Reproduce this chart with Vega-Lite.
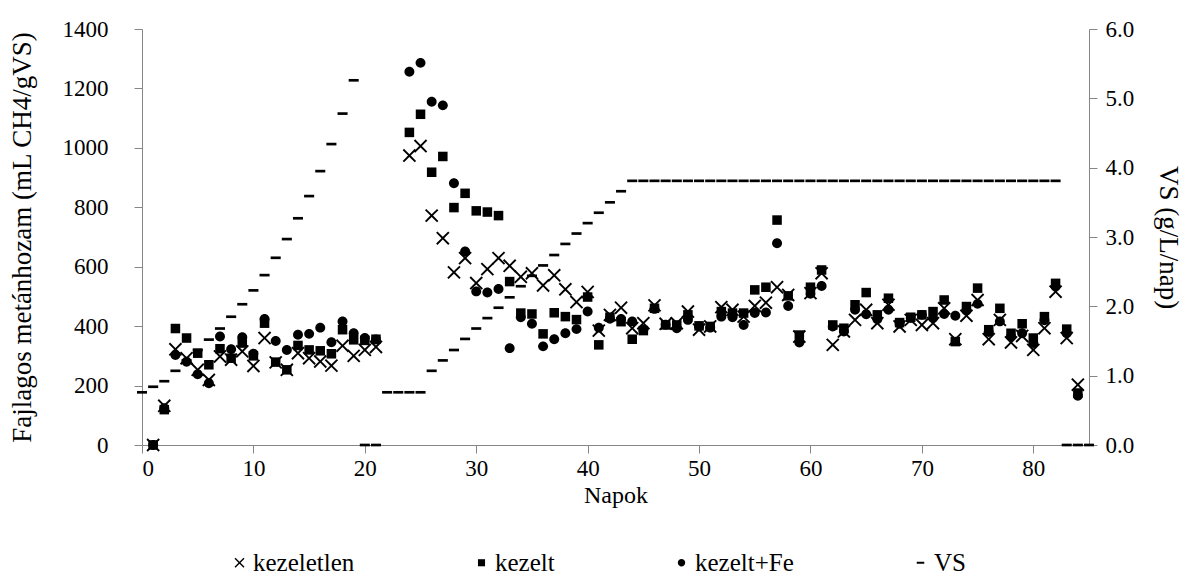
{
  "$schema": "https://vega.github.io/schema/vega-lite/v6.json",
  "width": 947,
  "height": 416,
  "autosize": {"type": "none"},
  "padding": {"left": 142, "top": 29, "right": 95, "bottom": 136},
  "background": "white",
  "config": {
    "view": {"stroke": null},
    "font": "Liberation Serif, Times New Roman, serif",
    "axis": {
      "domainColor": "#868686",
      "tickColor": "#868686",
      "tickSize": 8,
      "grid": false,
      "labelFont": "Liberation Serif, Times New Roman, serif",
      "labelFontSize": 23,
      "labelColor": "black",
      "titleFont": "Liberation Serif, Times New Roman, serif",
      "titleFontSize": 27,
      "titleFontWeight": "normal",
      "titleColor": "black"
    },
    "legend": {"labelFont": "Liberation Serif, Times New Roman, serif", "labelFontSize": 25, "labelColor": "black"}
  },
  "datasets": {
    "methane": [
      {"day":1,"series":"kezeletlen","v":0},{"day":1,"series":"kezelt","v":0},{"day":1,"series":"kezelt+Fe","v":0},
      {"day":2,"series":"kezeletlen","v":132},{"day":2,"series":"kezelt","v":119},{"day":2,"series":"kezelt+Fe","v":124},
      {"day":3,"series":"kezeletlen","v":322},{"day":3,"series":"kezelt","v":392},{"day":3,"series":"kezelt+Fe","v":303},
      {"day":4,"series":"kezeletlen","v":292},{"day":4,"series":"kezelt","v":360},{"day":4,"series":"kezelt+Fe","v":280},
      {"day":5,"series":"kezeletlen","v":253},{"day":5,"series":"kezelt","v":309},{"day":5,"series":"kezelt+Fe","v":238},
      {"day":6,"series":"kezeletlen","v":219},{"day":6,"series":"kezelt","v":270},{"day":6,"series":"kezelt+Fe","v":208},
      {"day":7,"series":"kezeletlen","v":298},{"day":7,"series":"kezelt","v":324},{"day":7,"series":"kezelt+Fe","v":365},
      {"day":8,"series":"kezeletlen","v":287},{"day":8,"series":"kezelt","v":292},{"day":8,"series":"kezelt+Fe","v":322},
      {"day":9,"series":"kezeletlen","v":315},{"day":9,"series":"kezelt","v":343},{"day":9,"series":"kezelt+Fe","v":363},
      {"day":10,"series":"kezeletlen","v":266},{"day":10,"series":"kezelt","v":300},{"day":10,"series":"kezelt+Fe","v":307},
      {"day":11,"series":"kezeletlen","v":360},{"day":11,"series":"kezelt","v":410},{"day":11,"series":"kezelt+Fe","v":424},
      {"day":12,"series":"kezeletlen","v":278},{"day":12,"series":"kezelt","v":279},{"day":12,"series":"kezelt+Fe","v":350},
      {"day":13,"series":"kezeletlen","v":253},{"day":13,"series":"kezelt","v":253},{"day":13,"series":"kezelt+Fe","v":320},
      {"day":14,"series":"kezeletlen","v":309},{"day":14,"series":"kezelt","v":335},{"day":14,"series":"kezelt+Fe","v":371},
      {"day":15,"series":"kezeletlen","v":292},{"day":15,"series":"kezelt","v":320},{"day":15,"series":"kezelt+Fe","v":374},
      {"day":16,"series":"kezeletlen","v":281},{"day":16,"series":"kezelt","v":317},{"day":16,"series":"kezelt+Fe","v":395},
      {"day":17,"series":"kezeletlen","v":267},{"day":17,"series":"kezelt","v":307},{"day":17,"series":"kezelt+Fe","v":346},
      {"day":18,"series":"kezeletlen","v":334},{"day":18,"series":"kezelt","v":388},{"day":18,"series":"kezelt+Fe","v":416},
      {"day":19,"series":"kezeletlen","v":300},{"day":19,"series":"kezelt","v":354},{"day":19,"series":"kezelt+Fe","v":376},
      {"day":20,"series":"kezeletlen","v":320},{"day":20,"series":"kezelt","v":352},{"day":20,"series":"kezelt+Fe","v":360},
      {"day":21,"series":"kezeletlen","v":330},{"day":21,"series":"kezelt","v":356},{"day":21,"series":"kezelt+Fe","v":355},
      {"day":24,"series":"kezeletlen","v":974},{"day":24,"series":"kezelt","v":1052},{"day":24,"series":"kezelt+Fe","v":1256},
      {"day":25,"series":"kezeletlen","v":1006},{"day":25,"series":"kezelt","v":1113},{"day":25,"series":"kezelt+Fe","v":1286},
      {"day":26,"series":"kezeletlen","v":772},{"day":26,"series":"kezelt","v":918},{"day":26,"series":"kezelt+Fe","v":1155},
      {"day":27,"series":"kezeletlen","v":696},{"day":27,"series":"kezelt","v":971},{"day":27,"series":"kezelt+Fe","v":1143},
      {"day":28,"series":"kezeletlen","v":581},{"day":28,"series":"kezelt","v":799},{"day":28,"series":"kezelt+Fe","v":881},
      {"day":29,"series":"kezeletlen","v":629},{"day":29,"series":"kezelt","v":847},{"day":29,"series":"kezelt+Fe","v":651},
      {"day":30,"series":"kezeletlen","v":545},{"day":30,"series":"kezelt","v":788},{"day":30,"series":"kezelt+Fe","v":517},
      {"day":31,"series":"kezeletlen","v":592},{"day":31,"series":"kezelt","v":784},{"day":31,"series":"kezelt+Fe","v":513},
      {"day":32,"series":"kezeletlen","v":629},{"day":32,"series":"kezelt","v":772},{"day":32,"series":"kezelt+Fe","v":525},
      {"day":33,"series":"kezeletlen","v":603},{"day":33,"series":"kezelt","v":550},{"day":33,"series":"kezelt+Fe","v":326},
      {"day":34,"series":"kezeletlen","v":566},{"day":34,"series":"kezelt","v":444},{"day":34,"series":"kezelt+Fe","v":430},
      {"day":35,"series":"kezeletlen","v":578},{"day":35,"series":"kezelt","v":441},{"day":35,"series":"kezelt+Fe","v":408},
      {"day":36,"series":"kezeletlen","v":537},{"day":36,"series":"kezelt","v":374},{"day":36,"series":"kezelt+Fe","v":332},
      {"day":37,"series":"kezeletlen","v":571},{"day":37,"series":"kezelt","v":445},{"day":37,"series":"kezelt+Fe","v":356},
      {"day":38,"series":"kezeletlen","v":524},{"day":38,"series":"kezelt","v":432},{"day":38,"series":"kezelt+Fe","v":376},
      {"day":39,"series":"kezeletlen","v":481},{"day":39,"series":"kezelt","v":422},{"day":39,"series":"kezelt+Fe","v":390},
      {"day":40,"series":"kezeletlen","v":515},{"day":40,"series":"kezelt","v":498},{"day":40,"series":"kezelt+Fe","v":449},
      {"day":41,"series":"kezeletlen","v":385},{"day":41,"series":"kezelt","v":337},{"day":41,"series":"kezelt+Fe","v":395},
      {"day":42,"series":"kezeletlen","v":438},{"day":42,"series":"kezelt","v":430},{"day":42,"series":"kezelt+Fe","v":425},
      {"day":43,"series":"kezeletlen","v":462},{"day":43,"series":"kezelt","v":415},{"day":43,"series":"kezelt+Fe","v":424},
      {"day":44,"series":"kezeletlen","v":393},{"day":44,"series":"kezelt","v":356},{"day":44,"series":"kezelt+Fe","v":416},
      {"day":45,"series":"kezeletlen","v":410},{"day":45,"series":"kezelt","v":385},{"day":45,"series":"kezelt+Fe","v":387},
      {"day":46,"series":"kezeletlen","v":470},{"day":46,"series":"kezelt","v":460},{"day":46,"series":"kezelt+Fe","v":458},
      {"day":47,"series":"kezeletlen","v":408},{"day":47,"series":"kezelt","v":404},{"day":47,"series":"kezelt+Fe","v":405},
      {"day":48,"series":"kezeletlen","v":410},{"day":48,"series":"kezelt","v":404},{"day":48,"series":"kezelt+Fe","v":393},
      {"day":49,"series":"kezeletlen","v":449},{"day":49,"series":"kezelt","v":438},{"day":49,"series":"kezelt+Fe","v":421},
      {"day":50,"series":"kezeletlen","v":388},{"day":50,"series":"kezelt","v":401},{"day":50,"series":"kezelt+Fe","v":399},
      {"day":51,"series":"kezeletlen","v":399},{"day":51,"series":"kezelt","v":399},{"day":51,"series":"kezelt+Fe","v":395},
      {"day":52,"series":"kezeletlen","v":464},{"day":52,"series":"kezelt","v":449},{"day":52,"series":"kezelt+Fe","v":432},
      {"day":53,"series":"kezeletlen","v":455},{"day":53,"series":"kezelt","v":444},{"day":53,"series":"kezelt+Fe","v":430},
      {"day":54,"series":"kezeletlen","v":432},{"day":54,"series":"kezelt","v":444},{"day":54,"series":"kezelt+Fe","v":404},
      {"day":55,"series":"kezeletlen","v":468},{"day":55,"series":"kezelt","v":522},{"day":55,"series":"kezelt+Fe","v":444},
      {"day":56,"series":"kezeletlen","v":479},{"day":56,"series":"kezelt","v":531},{"day":56,"series":"kezelt+Fe","v":446},
      {"day":57,"series":"kezeletlen","v":531},{"day":57,"series":"kezelt","v":757},{"day":57,"series":"kezelt+Fe","v":679},
      {"day":58,"series":"kezeletlen","v":505},{"day":58,"series":"kezelt","v":502},{"day":58,"series":"kezelt+Fe","v":468},
      {"day":59,"series":"kezeletlen","v":365},{"day":59,"series":"kezelt","v":370},{"day":59,"series":"kezelt+Fe","v":345},
      {"day":60,"series":"kezeletlen","v":511},{"day":60,"series":"kezelt","v":531},{"day":60,"series":"kezelt+Fe","v":509},
      {"day":61,"series":"kezeletlen","v":578},{"day":61,"series":"kezelt","v":589},{"day":61,"series":"kezelt+Fe","v":535},
      {"day":62,"series":"kezeletlen","v":337},{"day":62,"series":"kezelt","v":404},{"day":62,"series":"kezelt+Fe","v":399},
      {"day":63,"series":"kezeletlen","v":382},{"day":63,"series":"kezelt","v":393},{"day":63,"series":"kezelt+Fe","v":382},
      {"day":64,"series":"kezeletlen","v":421},{"day":64,"series":"kezelt","v":472},{"day":64,"series":"kezelt+Fe","v":455},
      {"day":65,"series":"kezeletlen","v":455},{"day":65,"series":"kezelt","v":513},{"day":65,"series":"kezelt+Fe","v":440},
      {"day":66,"series":"kezeletlen","v":410},{"day":66,"series":"kezelt","v":438},{"day":66,"series":"kezelt+Fe","v":423},
      {"day":67,"series":"kezeletlen","v":472},{"day":67,"series":"kezelt","v":494},{"day":67,"series":"kezelt+Fe","v":455},
      {"day":68,"series":"kezeletlen","v":399},{"day":68,"series":"kezelt","v":412},{"day":68,"series":"kezelt+Fe","v":408},
      {"day":69,"series":"kezeletlen","v":421},{"day":69,"series":"kezelt","v":430},{"day":69,"series":"kezelt+Fe","v":427},
      {"day":70,"series":"kezeletlen","v":404},{"day":70,"series":"kezelt","v":438},{"day":70,"series":"kezelt+Fe","v":438},
      {"day":71,"series":"kezeletlen","v":410},{"day":71,"series":"kezelt","v":449},{"day":71,"series":"kezelt+Fe","v":427},
      {"day":72,"series":"kezeletlen","v":460},{"day":72,"series":"kezelt","v":488},{"day":72,"series":"kezelt+Fe","v":441},
      {"day":73,"series":"kezeletlen","v":356},{"day":73,"series":"kezelt","v":348},{"day":73,"series":"kezelt+Fe","v":435},
      {"day":74,"series":"kezeletlen","v":435},{"day":74,"series":"kezelt","v":466},{"day":74,"series":"kezelt+Fe","v":453},
      {"day":75,"series":"kezeletlen","v":488},{"day":75,"series":"kezelt","v":528},{"day":75,"series":"kezelt+Fe","v":475},
      {"day":76,"series":"kezeletlen","v":356},{"day":76,"series":"kezelt","v":388},{"day":76,"series":"kezelt+Fe","v":380},
      {"day":77,"series":"kezeletlen","v":421},{"day":77,"series":"kezelt","v":460},{"day":77,"series":"kezelt+Fe","v":416},
      {"day":78,"series":"kezeletlen","v":345},{"day":78,"series":"kezelt","v":376},{"day":78,"series":"kezelt+Fe","v":365},
      {"day":79,"series":"kezeletlen","v":367},{"day":79,"series":"kezelt","v":408},{"day":79,"series":"kezelt+Fe","v":376},
      {"day":80,"series":"kezeletlen","v":320},{"day":80,"series":"kezelt","v":360},{"day":80,"series":"kezelt+Fe","v":343},
      {"day":81,"series":"kezeletlen","v":393},{"day":81,"series":"kezelt","v":432},{"day":81,"series":"kezelt+Fe","v":420},
      {"day":82,"series":"kezeletlen","v":516},{"day":82,"series":"kezelt","v":544},{"day":82,"series":"kezelt+Fe","v":533},
      {"day":83,"series":"kezeletlen","v":360},{"day":83,"series":"kezelt","v":390},{"day":83,"series":"kezelt+Fe","v":376},
      {"day":84,"series":"kezeletlen","v":203},{"day":84,"series":"kezelt","v":175},{"day":84,"series":"kezelt+Fe","v":166}
    ],
    "vs": [
      {"day":0,"series":"VS","vs":0.76},{"day":1,"series":"VS","vs":0.84},{"day":2,"series":"VS","vs":0.92},{"day":3,"series":"VS","vs":1.07},
      {"day":4,"series":"VS","vs":1.22},{"day":5,"series":"VS","vs":1.37},{"day":6,"series":"VS","vs":1.52},{"day":7,"series":"VS","vs":1.68},
      {"day":8,"series":"VS","vs":1.85},{"day":9,"series":"VS","vs":2.03},{"day":10,"series":"VS","vs":2.23},{"day":11,"series":"VS","vs":2.45},
      {"day":12,"series":"VS","vs":2.70},{"day":13,"series":"VS","vs":2.97},{"day":14,"series":"VS","vs":3.27},{"day":15,"series":"VS","vs":3.59},
      {"day":16,"series":"VS","vs":3.95},{"day":17,"series":"VS","vs":4.34},{"day":18,"series":"VS","vs":4.78},{"day":19,"series":"VS","vs":5.26},
      {"day":20,"series":"VS","vs":0},{"day":21,"series":"VS","vs":0},{"day":22,"series":"VS","vs":0.76},{"day":23,"series":"VS","vs":0.76},
      {"day":24,"series":"VS","vs":0.76},{"day":25,"series":"VS","vs":0.76},{"day":26,"series":"VS","vs":1.07},{"day":27,"series":"VS","vs":1.22},
      {"day":28,"series":"VS","vs":1.37},{"day":29,"series":"VS","vs":1.53},{"day":30,"series":"VS","vs":1.68},{"day":31,"series":"VS","vs":1.83},
      {"day":32,"series":"VS","vs":1.98},{"day":33,"series":"VS","vs":2.13},{"day":34,"series":"VS","vs":2.29},{"day":35,"series":"VS","vs":2.44},
      {"day":36,"series":"VS","vs":2.59},{"day":37,"series":"VS","vs":2.74},{"day":38,"series":"VS","vs":2.90},{"day":39,"series":"VS","vs":3.05},
      {"day":40,"series":"VS","vs":3.20},{"day":41,"series":"VS","vs":3.35},{"day":42,"series":"VS","vs":3.50},{"day":43,"series":"VS","vs":3.66},
      {"day":44,"series":"VS","vs":3.81},{"day":45,"series":"VS","vs":3.81},{"day":46,"series":"VS","vs":3.81},{"day":47,"series":"VS","vs":3.81},
      {"day":48,"series":"VS","vs":3.81},{"day":49,"series":"VS","vs":3.81},{"day":50,"series":"VS","vs":3.81},{"day":51,"series":"VS","vs":3.81},
      {"day":52,"series":"VS","vs":3.81},{"day":53,"series":"VS","vs":3.81},{"day":54,"series":"VS","vs":3.81},{"day":55,"series":"VS","vs":3.81},
      {"day":56,"series":"VS","vs":3.81},{"day":57,"series":"VS","vs":3.81},{"day":58,"series":"VS","vs":3.81},{"day":59,"series":"VS","vs":3.81},
      {"day":60,"series":"VS","vs":3.81},{"day":61,"series":"VS","vs":3.81},{"day":62,"series":"VS","vs":3.81},{"day":63,"series":"VS","vs":3.81},
      {"day":64,"series":"VS","vs":3.81},{"day":65,"series":"VS","vs":3.81},{"day":66,"series":"VS","vs":3.81},{"day":67,"series":"VS","vs":3.81},
      {"day":68,"series":"VS","vs":3.81},{"day":69,"series":"VS","vs":3.81},{"day":70,"series":"VS","vs":3.81},{"day":71,"series":"VS","vs":3.81},
      {"day":72,"series":"VS","vs":3.81},{"day":73,"series":"VS","vs":3.81},{"day":74,"series":"VS","vs":3.81},{"day":75,"series":"VS","vs":3.81},
      {"day":76,"series":"VS","vs":3.81},{"day":77,"series":"VS","vs":3.81},{"day":78,"series":"VS","vs":3.81},{"day":79,"series":"VS","vs":3.81},
      {"day":80,"series":"VS","vs":3.81},{"day":81,"series":"VS","vs":3.81},{"day":82,"series":"VS","vs":3.81},{"day":83,"series":"VS","vs":0},
      {"day":84,"series":"VS","vs":0},{"day":85,"series":"VS","vs":0}
    ]
  },
  "layer": [
    {
      "data": {"name": "methane"},
      "mark": {"type": "point", "filled": true, "fill": "black", "opacity": 1, "strokeWidth": 0, "size": 180, "clip": false},
      "encoding": {
        "x": {"field": "day", "type": "quantitative", "scale": {"domain": [0, 85], "nice": false, "zero": false},
          "axis": {"values": [0,10,20,30,40,50,60,70,80], "title": "Napok", "titleFontSize": 24, "labelPadding": 4, "titlePadding": 3}},
        "y": {"field": "v", "type": "quantitative", "scale": {"domain": [0, 1400], "nice": false},
          "axis": {"orient": "left", "values": [0,200,400,600,800,1000,1200,1400], "format": "d", "title": "Fajlagos metánhozam (mL CH4/gVS)", "labelPadding": 26, "titlePadding": 26}},
        "shape": {"field": "series", "type": "nominal",
          "scale": {"domain": ["kezeletlen", "kezelt", "kezelt+Fe", "VS"],
            "range": [
              "M-1,-0.8L-0.8,-1L0,-0.2L0.8,-1L1,-0.8L0.2,0L1,0.8L0.8,1L0,0.2L-0.8,1L-1,0.8L-0.2,0Z",
              "M-0.71,-0.71L0.71,-0.71L0.71,0.71L-0.71,0.71Z",
              "M-0.74,0A0.74,0.74,0,1,1,0.74,0A0.74,0.74,0,1,1,-0.74,0Z",
              "M-0.75,-0.2L0.75,-0.2L0.75,0.2L-0.75,0.2Z"
            ]},
          "legend": {"orient": "none", "legendX": 85, "legendY": 521, "direction": "horizontal", "title": null,
            "symbolSize": 100, "symbolFillColor": "black", "symbolStrokeWidth": 0, "symbolOpacity": 1,
            "labelFont": "Liberation Serif, Times New Roman, serif", "labelFontSize": 25, "labelColor": "black",
            "columnPadding": 114, "labelOffset": 1}}
      }
    },
    {
      "data": {"name": "vs"},
      "mark": {"type": "point", "filled": true, "fill": "black", "opacity": 1, "strokeWidth": 0, "size": 180, "clip": false},
      "encoding": {
        "x": {"field": "day", "type": "quantitative"},
        "y": {"field": "vs", "type": "quantitative", "scale": {"domain": [0, 6], "nice": false},
          "axis": {"orient": "right", "values": [0,1,2,3,4,5,6], "format": ".1f", "title": "VS (g/L/nap)", "labelPadding": 8, "titlePadding": 20}},
        "shape": {"field": "series", "type": "nominal"}
      }
    }
  ],
  "resolve": {"scale": {"y": "independent"}}
}
